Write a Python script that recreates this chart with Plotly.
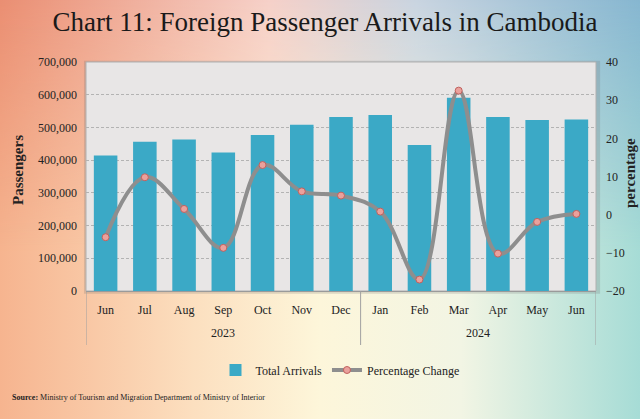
import base64
import plotly.graph_objects as go

# Foreign passenger arrivals, Jun 2023 - Jun 2024

years = ["2023"] * 7 + ["2024"] * 6
months = ["Jun", "Jul", "Aug", "Sep", "Oct", "Nov", "Dec",
          "Jan", "Feb", "Mar", "Apr", "May", "Jun"]
arrivals = [414000, 456000, 463000, 423000, 477000, 508000, 532000,
            538000, 446000, 591000, 532000, 523000, 524000]
pct_change = [-5.9, 9.8, 1.5, -8.7, 13.0, 6.1, 5.0,
              0.8, -17.0, 32.5, -10.2, -1.9, 0.2]

serif = "Liberation Serif, Times New Roman, serif"
xs = list(range(len(months)))

# background gradient as an svg picture
svg = """<svg xmlns='http://www.w3.org/2000/svg' width='640' height='419' preserveAspectRatio='none'>
<defs>
<linearGradient id='bot' x1='0' y1='0' x2='1' y2='0'>
<stop offset='0' stop-color='#f6b48f'/><stop offset='0.3' stop-color='#fcdfbf'/>
<stop offset='0.5' stop-color='#fdf6da'/><stop offset='0.72' stop-color='#f2f5e4'/>
<stop offset='1' stop-color='#a6dcd6'/></linearGradient>
<linearGradient id='top' x1='0' y1='0' x2='1' y2='0'>
<stop offset='0' stop-color='#ea8e72'/><stop offset='0.42' stop-color='#f6d0c8'/>
<stop offset='0.65' stop-color='#c9d4e0'/><stop offset='1' stop-color='#86b6d0'/></linearGradient>
<linearGradient id='fade' x1='0' y1='0' x2='0' y2='1'>
<stop offset='0' stop-color='white'/><stop offset='0.6' stop-color='black'/></linearGradient>
<mask id='m'><rect width='640' height='419' fill='url(#fade)'/></mask>
</defs>
<rect width='640' height='419' fill='url(#bot)'/>
<rect width='640' height='419' fill='url(#top)' mask='url(#m)'/>
</svg>"""
bg = "data:image/svg+xml;base64," + base64.b64encode(svg.encode()).decode()

fig = go.Figure()

fig.add_trace(go.Bar(
    x=xs, y=arrivals, name="Total Arrivals",
    marker=dict(color="#3ba9c6", line=dict(width=0)),
))
fig.add_trace(go.Scatter(
    x=xs, y=pct_change, name="Percentage Change", yaxis="y2",
    mode="lines+markers", line=dict(color="#8e8e8e", width=4, shape="spline", smoothing=1.1),
    marker=dict(size=7, color="#eaa19c", line=dict(color="#c0615e", width=1)),
))

W, H = 640, 419
L, R, T, B = 86, 44, 62, 128
pw, ph = W - L - R, H - T - B

fig.add_layout_image(dict(
    source=bg, xref="paper", yref="paper",
    x=-L / pw, y=1 + T / ph, sizex=W / pw, sizey=H / ph,
    sizing="stretch", layer="below",
))

fig.update_layout(
    width=W, height=H,
    margin=dict(l=L, r=R, t=T, b=B),
    paper_bgcolor="#f5e9dc",
    plot_bgcolor="rgba(0,0,0,0)",
    font=dict(family=serif, size=12, color="#222222"),
    title=dict(text="Chart 11: Foreign Passenger Arrivals in Cambodia",
               x=325 / W, xref="container", xanchor="center", y=0.948, yanchor="middle",
               font=dict(family=serif, size=27, color="#1a1a1a")),
    bargap=0.4,
    showlegend=True,
    legend=dict(orientation="h", x=(340 - L) / pw, xanchor="center", y=(291 - 370) / ph,
                yanchor="middle", font=dict(family=serif, size=12),
                bgcolor="rgba(0,0,0,0)", itemwidth=30),
    xaxis=dict(range=[-0.5, len(months) - 0.5], tickvals=xs, ticktext=months,
               showline=True, linecolor="#9a9a9a", showgrid=False, zeroline=False,
               ticks="", ticklabelstandoff=8, tickfont=dict(family=serif, size=12)),
    yaxis=dict(range=[0, 700000], dtick=100000, tickformat=",d",
               showgrid=True, gridcolor="#b3b3b3", griddash="3px,2px", gridwidth=1,
               zeroline=False, showline=False, ticklabelstandoff=8,
               tickfont=dict(family=serif, size=12)),
    yaxis2=dict(overlaying="y", side="right", range=[-20, 40], dtick=10,
                showgrid=False, zeroline=False, ticklabelstandoff=9,
                tickfont=dict(family=serif, size=12)),
)

# plot-area background with a soft shadow and frame
fig.add_shape(type="rect", xref="paper", yref="paper", x0=-0.004, y0=-0.012, x1=1.008, y1=1.006,
              fillcolor="rgba(110,110,110,0.22)", line=dict(width=0), layer="below")
fig.add_shape(type="rect", xref="paper", yref="paper", x0=0, y0=0, x1=1, y1=1,
              fillcolor="#e8e6e6", line=dict(color="#b0b0b0", width=1), layer="below")

# year group dividers and labels below the month ticks
bounds = [-0.5]
for i in range(1, len(years)):
    if years[i] != years[i - 1]:
        bounds.append(i - 0.5)
bounds.append(len(years) - 0.5)
for b in bounds:
    fig.add_shape(type="line", xref="x", yref="paper", x0=b, x1=b, y0=0, y1=(291 - 345) / ph,
                  line=dict(color="#a0a0a0", width=1))
for a, b in zip(bounds[:-1], bounds[1:]):
    fig.add_annotation(text=years[int(a + 0.5)], xref="x", yref="paper", x=(a + b) / 2,
                       y=(291 - 333) / ph, showarrow=False, yanchor="middle",
                       font=dict(family=serif, size=12))

# axis titles
fig.add_annotation(text="<b>Passengers</b>", xref="paper", yref="paper",
                   x=(18 - L) / pw, y=(291 - 170) / ph, textangle=-90, showarrow=False,
                   xanchor="center", yanchor="middle", font=dict(family=serif, size=15))
fig.add_annotation(text="<b>percentage</b>", xref="paper", yref="paper",
                   x=(630 - L) / pw, y=(291 - 173) / ph, textangle=-90, showarrow=False,
                   xanchor="center", yanchor="middle", font=dict(family=serif, size=15))

fig.add_annotation(
    text="<b>Source:</b> Ministry of Tourism and Migration Department of Ministry of Interior",
    xref="paper", yref="paper", x=(10 - L) / pw, y=(291 - 397) / ph,
    xanchor="left", yanchor="middle", showarrow=False,
    font=dict(family=serif, size=8, color="#222222"),
)

fig.write_html("out.html", config={"displayModeBar": False},
               post_script="document.body.style.margin='0';")
